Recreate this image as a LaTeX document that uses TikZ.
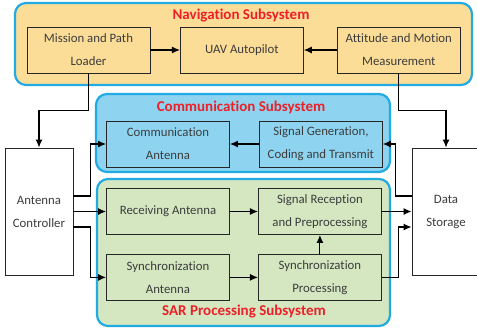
\documentclass[tikz,border=0pt]{standalone}
\usepackage{fontspec}
\setmainfont[Ligatures={NoCommon}]{Carlito}
\usetikzlibrary{arrows.meta, positioning, calc}
\definecolor{navorange}{RGB}{252, 221, 152}
\definecolor{commblue}{RGB}{142, 212, 240}
\definecolor{sargreen}{RGB}{212, 231, 193}
\definecolor{frameblue}{RGB}{34, 170, 226}
\definecolor{titlered}{RGB}{236, 32, 40}
\definecolor{textgray}{RGB}{60, 60, 60}
\newcommand{\bodyfont}{\fontsize{12.8pt}{23pt}\selectfont}
\newcommand{\titlefont}{\fontsize{15pt}{18pt}\selectfont\bfseries}
\tikzstyle{subsystem} = [rectangle, rounded corners=11pt, draw=frameblue, line width=2.2pt]
\tikzstyle{block} = [rectangle, minimum width=123pt, minimum height=46pt, align=center, draw=black!85, line width=0.9pt, text=textgray, font=\bodyfont]
\tikzstyle{sidebox} = [block, minimum width=68pt, minimum height=127pt, fill=white]
\tikzstyle{title} = [text=titlered, font=\titlefont]
\tikzstyle{arrow} = [line width=1.1pt, -{Latex[length=8pt,width=7pt]}]

\begin{document}
\begin{tikzpicture}[x=1pt, y=-1pt]
\useasboundingbox (0,0) rectangle (477,332);

% Subsystem frames
\node (navsys) [subsystem, fill=navorange, minimum width=457pt, minimum height=82pt] at (243.5,44) {};
\node (commsys) [subsystem, fill=commblue, minimum width=294pt, minimum height=78pt] at (243,133) {};
\node (sarsys) [subsystem, fill=sargreen, minimum width=293pt, minimum height=147pt] at (243.5,252.5) {};

\node (navtitle) [title] at (241,16) {Navigation Subsystem};
\node (commtitle) [title] at (241,107) {Communication Subsystem};
\node (sartitle) [title] at (244,312) {SAR Processing Subsystem};

% Navigation
\node (mission) [block, fill=navorange] at (88.5,50) {Mission and Path\\Loader};
\node (autopilot) [block, fill=navorange, right=29.5pt of mission] {UAV Autopilot};
\node (attitude) [block, fill=navorange, right=33pt of autopilot] {Attitude and Motion\\Measurement};

% Communication
\node (commant) [block, fill=commblue] at (168,144) {Communication\\Antenna};
\node (siggen) [block, fill=commblue, right=29pt of commant] {Signal Generation,\\Coding and Transmit};

% SAR processing
\node (recant) [block, fill=sargreen] at (168,211.5) {Receiving Antenna};
\node (sigrec) [block, fill=sargreen, right=28pt of recant] {Signal Reception\\and Preprocessing};
\node (syncant) [block, fill=sargreen, below=19pt of recant] {Synchronization\\Antenna};
\node (syncproc) [block, fill=sargreen, right=28pt of syncant] {Synchronization\\Processing};

% Side blocks
\node (controller) [sidebox] at (39,211.5) {Antenna\\Controller};
\node (storage) [sidebox] at (446,211.5) {Data\\Storage};

% Arrows
\draw [arrow] (mission) -- (autopilot);
\draw [arrow] (attitude) -- (autopilot);
\draw [arrow] (mission.south) -- ++(0,37) -| (controller.north);
\draw [arrow] (attitude.south) -- ++(0,37) -| (storage.north);
\draw [arrow] (siggen) -- (commant);
\draw [arrow] ([yshift=15.5pt]controller.east) -- ++(17,0) |- (commant.west);
\draw [arrow] (controller.east) -- (recant.west);
\draw [arrow] ([yshift=-15.5pt]controller.east) -- ++(17,0) |- (syncant.west);
\draw [arrow] (recant) -- (sigrec);
\draw [arrow] (syncant) -- (syncproc);
\draw [arrow] (syncproc) -- (sigrec);
\draw [arrow] (sigrec.east) -- (sigrec.east -| storage.west);
\draw [arrow] (syncproc.east) -- ++(17,0) |- ([yshift=-15.5pt]storage.west);
\draw [arrow] ([yshift=15.5pt]storage.west) -- ++(-16,0) |- (siggen.east);

\end{tikzpicture}
\end{document}
